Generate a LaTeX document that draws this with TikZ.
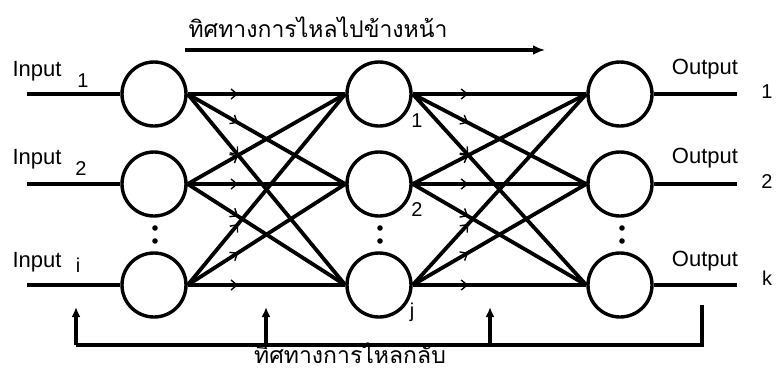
\documentclass[tikz,border=0pt]{standalone}
\usepackage{fontspec}
\setmainfont{Liberation Sans}
\newfontfamily\thaifont[Script=Thai]{Loma}
\usetikzlibrary{arrows.meta,decorations.markings}

\begin{document}
\begin{tikzpicture}[
    x=1pt, y=-1pt,
    neuron/.style={draw, circle, line width=3.4pt, minimum size=64pt, inner sep=0pt},
    wire/.style={line width=3.4pt},
    link/.style={line width=3.8pt, postaction={decorate},
      decoration={markings, mark=at position 0.32 with {\arrow[line width=1.4pt]{Straight Barb[length=6pt,width=10pt]}}}},
    lbl/.style={font=\fontsize{22}{24}\selectfont, inner sep=0pt},
    idx/.style={font=\fontsize{20}{22}\selectfont, inner sep=0pt},
    thai/.style={font=\thaifont\fontsize{23}{26}\selectfont, inner sep=0pt},
    back/.style={line width=3.4pt},
    uparrow/.style={line width=3.4pt, -{Latex[length=10pt,width=9pt]}}
  ]
    \useasboundingbox (0,0) rectangle (777,373);

    % input layer
    \node[neuron] (in1) at (154,94) {};
    \node[neuron] (in2) at (154,184) {};
    \node[neuron] (in3) at (154,285) {};
    % hidden layer
    \node[neuron] (hid1) at (379,94) {};
    \node[neuron] (hid2) at (379,184) {};
    \node[neuron] (hid3) at (379,285) {};
    % output layer
    \node[neuron] (out1) at (620,94) {};
    \node[neuron] (out2) at (620,184) {};
    \node[neuron] (out3) at (620,285) {};

    % input wires
    \coordinate (src1) at (27,94);
    \coordinate (src2) at (27,184);
    \coordinate (src3) at (27,285);
    \draw[wire] (src1) -- (in1);
    \draw[wire] (src2) -- (in2);
    \draw[wire] (src3) -- (in3);
    \node[lbl] (inlbl1) at (37,71) {Input};
    \node[lbl] (inlbl2) at (37,159) {Input};
    \node[lbl] (inlbl3) at (37,262) {Input};
    \node[idx] (insub1) at (83,81) {1};
    \node[idx] (insub2) at (81,169) {2};
    \node[idx] (insub3) at (78,265) {i};

    % output wires
    \coordinate (dst1) at (737,94);
    \coordinate (dst2) at (737,184);
    \coordinate (dst3) at (737,285);
    \draw[wire] (out1) -- (dst1);
    \draw[wire] (out2) -- (dst2);
    \draw[wire] (out3) -- (dst3);
    \node[lbl] (outlbl1) at (705,69) {Output};
    \node[lbl] (outlbl2) at (705,158) {Output};
    \node[lbl] (outlbl3) at (705,261) {Output};
    \node[idx] (outsub1) at (767,92) {1};
    \node[idx] (outsub2) at (767,182) {2};
    \node[idx] (outsub3) at (767,278) {k};

    % full connections
    \foreach \a in {1,2,3}
      \foreach \b in {1,2,3} {
        \draw[link] (in\a.east) -- (hid\b.west);
        \draw[link] (hid\a.east) -- (out\b.west);
      }

    % hidden labels
    \node[idx] (hidsub1) at (417,121) {1};
    \node[idx] (hidsub2) at (417,210) {2};
    \node[idx] (hidsub3) at (412,312) {j};

    % dots between rows
    \foreach \x in {155,380,622} {
      \fill (\x,228) circle (2.8pt);
      \fill (\x,241) circle (2.8pt);
    }

    % forward direction
    \node[thai] (fwdtext) at (318,27) {ทิศทางการไหลไปข้างหน้า};
    \coordinate (fwdL) at (185,50);
    \coordinate (fwdR) at (545,50);
    \draw[line width=3.4pt, -{Latex[length=12pt,width=10pt]}] (fwdL) -- (fwdR);

    % backward direction
    \coordinate (backL) at (76,345);
    \coordinate (backM1) at (266,345);
    \coordinate (backM2) at (490,345);
    \coordinate (backR) at (702,345);
    \coordinate (topL) at (76,307);
    \coordinate (topM1) at (266,307);
    \coordinate (topM2) at (490,307);
    \coordinate (topR) at (702,305);
    \draw[back] (topR) -- (backR) -- (backL);
    \draw[uparrow] (backL) -- (topL);
    \draw[uparrow] (backM1) -- (topM1);
    \draw[uparrow] (backM2) -- (topM2);
    \node[thai] (backtext) at (350,353) {ทิศทางการไหลกลับ};
\end{tikzpicture}
\end{document}
